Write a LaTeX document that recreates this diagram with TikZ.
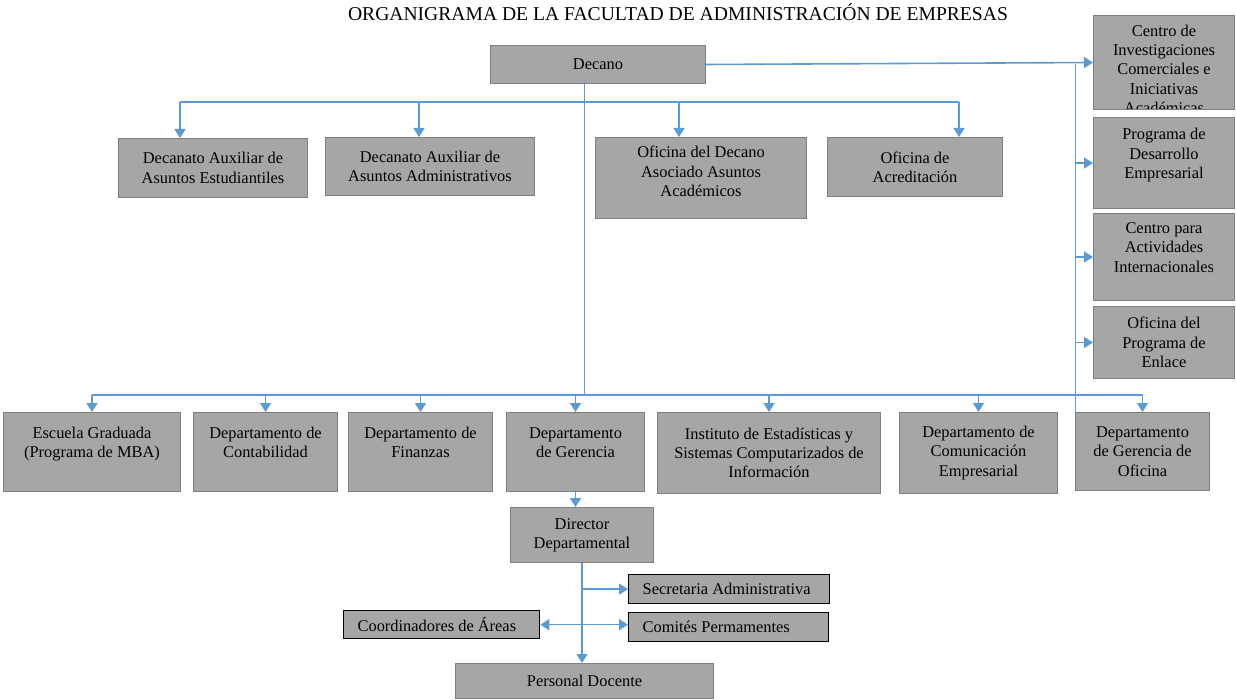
\documentclass[tikz,border=0pt]{standalone}
\usepackage{fontspec}
\setmainfont{Liberation Serif}
\usetikzlibrary{arrows.meta}
\definecolor{linkblue}{HTML}{5B9BD5}
\definecolor{boxgray}{HTML}{A6A6A6}
\definecolor{boxline}{HTML}{7F7F7F}
\newcommand{\boxfont}{\fontsize{16.4}{19.3}\selectfont}
\newcommand{\titlefont}{\fontsize{19.6}{22}\selectfont}
\tikzset{
  orgbox/.style={draw=boxline, line width=1pt, fill=boxgray, anchor=north west, inner sep=2pt, align=center, font=\boxfont},
  sidebox/.style={orgbox, draw=black, line width=1.3pt, align=flush left, inner xsep=14pt},
  feed/.style={draw=linkblue, line width=1.6pt},
  thinfeed/.style={draw=linkblue, line width=1pt},
  link/.style={feed, -{Triangle[width=11pt,length=9pt]}},
  bilink/.style={feed, {Triangle[width=11pt,length=9pt]}-{Triangle[width=11pt,length=9pt]}},
}

\begin{document}
\begin{tikzpicture}[x=1pt, y=-1pt]
    \useasboundingbox (0,0) rectangle (1236,700);
    % Title
    \node[font=\titlefont] (title) at (678,12) {ORGANIGRAMA DE LA FACULTAD DE ADMINISTRACIÓN DE EMPRESAS};

    % Dean and staff offices
    \node[orgbox, minimum width=215, minimum height=38] (decano) at (490,45) {Decano};
    \node[orgbox, minimum width=189, minimum height=59] (auxest) at (118,138) {Decanato Auxiliar de\\Asuntos Estudiantiles};
    \node[orgbox, minimum width=209, minimum height=58] (auxadm) at (325,137) {Decanato Auxiliar de\\Asuntos Administrativos};
    \node[orgbox, minimum width=211, minimum height=81] (ofdec) at (595,137) {Oficina del Decano\\Asociado Asuntos\\Académicos\\[-6pt]\mbox{}};
    \node[orgbox, minimum width=175, minimum height=59] (acred) at (827,137) {Oficina de\\Acreditación};

    % Right column
    \node[orgbox, minimum width=141, minimum height=94, path picture={
        \node[draw=none, fill=none, anchor=north, inner sep=0pt, minimum width=0pt, minimum height=0pt, align=center, font=\boxfont]
          at ([yshift=-9pt]path picture bounding box.north) {Centro de\\Investigaciones\\Comerciales e\\Iniciativas\\Académicas};
      }] (cinv) at (1093,15) {};
    \node[orgbox, minimum width=141, minimum height=91] (pdes) at (1093,117) {Programa de\\Desarrollo\\Empresarial\\\mbox{}};
    \node[orgbox, minimum width=141, minimum height=87] (cact) at (1093,213) {Centro para\\Actividades\\Internacionales\\\mbox{}};
    \node[orgbox, minimum width=141, minimum height=72] (enl) at (1093,306) {Oficina del\\Programa de\\Enlace};

    % Departments
    \node[orgbox, minimum width=177, minimum height=79] (esc) at (3,412) {Escuela Graduada\\(Programa de MBA)\\\mbox{}};
    \node[orgbox, minimum width=144, minimum height=79] (cont) at (193,412) {Departamento de\\Contabilidad\\\mbox{}};
    \node[orgbox, minimum width=144, minimum height=79] (fin) at (348,412) {Departamento de\\Finanzas\\\mbox{}};
    \node[orgbox, minimum width=138, minimum height=79] (ger) at (506,412) {Departamento\\de Gerencia\\\mbox{}};
    \node[orgbox, minimum width=223, minimum height=81] (inst) at (657,412) {Instituto de Estadísticas y\\Sistemas Computarizados de\\Información};
    \node[orgbox, minimum width=158, minimum height=81] (com) at (899,412) {Departamento de\\Comunicación\\Empresarial};
    \node[orgbox, minimum width=134, minimum height=78] (gof) at (1075,412) {Departamento\\de Gerencia de\\Oficina};

    % Department of management
    \node[orgbox, minimum width=143, minimum height=55] (dir) at (510,507) {Director\\Departamental};
    \node[sidebox, text width=173, minimum height=29] (secr) at (628,574) {Secretaria Administrativa};
    \node[sidebox, text width=172, minimum height=29] (comit) at (628,612) {Comités Permamentes};
    \node[sidebox, text width=168, minimum height=28] (coord) at (343,610) {Coordinadores de Áreas};
    \node[orgbox, minimum width=258, minimum height=35] (pers) at (455,663) {Personal Docente};

    % Connectors from the dean
    \draw[link] (decano.east) -- (cinv.west);
    \draw[thinfeed] (gof.north west |- decano.east) -- (gof.north west);
    \foreach \b in {pdes,cact,enl}
        \draw[link] (gof.north west |- \b.west) -- (\b.west);
    \draw[thinfeed] (decano.south -| 584,0) -- (584,395);
    \draw[feed] (180,102) -- (959,102);
    \foreach \x/\b in {180/auxest, 419/auxadm, 679/ofdec, 959/acred}
        \draw[link] (\x,102) -- (\x,0 |- \b.north);
    \draw[feed] (esc.north |- 0,395) -- (gof.north |- 0,395);
    \foreach \b in {esc,cont,fin,ger,inst,com,gof}
        \draw[link] (\b.north |- 0,395) -- (\b.north);

    % Inside the department
    \draw[link] (ger.south) -- (ger.south |- dir.north);
    \draw[link] (dir.south) -- (dir.south |- pers.north);
    \draw[link] (dir.south |- secr.west) -- (secr.west);
    \draw[bilink] (coord.east) -- (coord.east -| comit.west);
\end{tikzpicture}
\end{document}
